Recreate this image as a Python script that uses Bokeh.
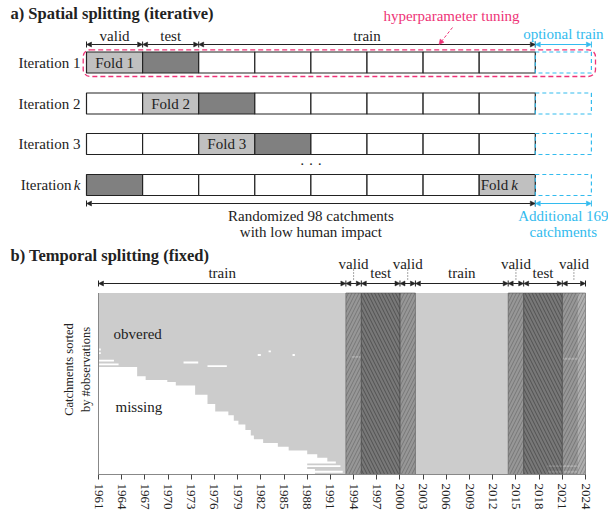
import math
from bokeh.plotting import figure
from bokeh.models import Range1d, Arrow, NormalHead, BoxAnnotation, FixedTicker, ColumnDataSource
from bokeh.layouts import column
from bokeh.core.properties import value
from bokeh.embed import file_html
from bokeh.resources import INLINE

FONT = "Liberation Serif"
INK = "#222222"
MAGENTA = "#EE3377"
CYAN = "#33BBEE"

# ---------------- Panel a data ----------------
iterations = ["Iteration 1", "Iteration 2", "Iteration 3", "Iteration k"]
n_folds = 8
valid_fold = [0, 1, 2, 7]
test_fold = [1, 2, 3, 0]
fold_labels = ["Fold 1", "Fold 2", "Fold 3", "Fold k"]
top_seg_start = [0, 1, 2]
top_seg_end = [1, 2, 8]
top_seg_label = ["valid", "test", "train"]
n_random = 98
n_additional = 169

# ---------------- Panel b data ----------------
years = list(range(1961, 2025, 3))
first_year = ([1961.0] * 40 + [1966.0] * 5 + [1967.1] * 2 + [1969.9] * 1 + [1971.0] * 2
              + [1973.5] * 5 + [1975.1] * 5 + [1976.1] * 4 + [1977.8] * 2 + [1978.5] * 3
              + [1979.1] * 2 + [1980.0] * 3 + [1980.7] * 3 + [1981.1] * 2 + [1982.3] * 2
              + [1984.2] * 2 + [1985.6] * 2 + [1988.0] * 2 + [1989.3] * 2 + [1990.6] * 2
              + [1991.7] + [1988.0, 1992.3, 1988.0, 1989.0, 1992.6, 1989.0])
data_end = 2023.0
gap_row = [30, 32, 36, 38, 37, 39, 33, 31, 33, 34, 35, 93, 96]
gap_from = [1961.0, 1961.0, 1961.0, 1961.0, 1972.0, 1975.1, 1981.6, 1983.0, 1986.1, 1993.7, 2021.0, 2019.1, 2019.1]
gap_to = [1961.3, 1961.3, 1963.0, 1963.6, 1973.9, 1977.6, 1982.0, 1983.3, 1986.4, 1994.9, 2023.0, 2023.0, 2023.0]
split_start = [1961, 1993, 1995, 2000, 2002, 2014, 2016, 2021]
split_end = [1993, 1995, 2000, 2002, 2014, 2016, 2021, 2024]
split_kind = ["train", "valid", "test", "valid", "train", "valid", "test", "valid"]

W = 608

# ================= Panel a =================
HA = 242
FOLD_PX = 56.1
X0_PX = 86.0


def ax(px):
    return (px - X0_PX) / FOLD_PX


pa = figure(width=W, height=HA, x_range=Range1d(ax(0), ax(W)), y_range=Range1d(HA, 0),
            output_backend="svg", toolbar_location=None, min_border=0,
            x_axis_location=None, y_axis_location=None)
pa.outline_line_color = None
pa.xgrid.grid_line_color = None
pa.ygrid.grid_line_color = None

row_y = [62.0, 103.0, 143.5, 184.5]
BOX_H = 21.0


def txt(p, x, y, t, size="15px", color=INK, align="center", style="normal", angle=0.0, xoff=0):
    p.text(x=[x], y=[y], text=[t], text_font=value(FONT), text_font_size=size,
           text_color=color, text_align=align, text_baseline="middle",
           text_font_style=style, angle=angle, x_offset=xoff)


txt(pa, ax(10), 12.5, "a) Spatial splitting (iterative)", size="16.5px", align="left", style="bold")

# cells
cl, cr, ct, cb, cf = [], [], [], [], []
for i, yc in enumerate(row_y):
    for f in range(n_folds):
        cl.append(f)
        cr.append(f + 1)
        ct.append(yc - BOX_H / 2)
        cb.append(yc + BOX_H / 2)
        if f == valid_fold[i]:
            cf.append("#c0c0c0")
        elif f == test_fold[i]:
            cf.append("#808080")
        else:
            cf.append("#ffffff")
pa.quad(left=cl, right=cr, top=ct, bottom=cb, fill_color=cf, line_color=INK, line_width=1.2)
# optional extra catchments
pa.quad(left=[n_folds] * 4, right=[n_folds + 1] * 4,
        top=[y - BOX_H / 2 for y in row_y], bottom=[y + BOX_H / 2 for y in row_y],
        fill_color=None, line_color=CYAN, line_dash="4 3", line_width=1.2)

for i, yc in enumerate(row_y):
    lab = iterations[i]
    if lab.endswith(" k"):
        txt(pa, 0, yc, lab[:-2], align="right", xoff=-15)
        txt(pa, 0, yc, "k", align="right", style="italic", xoff=-6)
    else:
        txt(pa, 0, yc, lab, align="right", xoff=-6)
    fl = fold_labels[i]
    xc = valid_fold[i] + 0.5
    if fl.endswith(" k"):
        txt(pa, xc, yc, fl[:-2], align="right", xoff=1)
        txt(pa, xc, yc, "k", align="left", style="italic", xoff=4)
    else:
        txt(pa, xc, yc, fl)

txt(pa, 4, 163, "· · ·")


def arrows(p, x0, x1, y, color, tick_half):
    src = ColumnDataSource(dict(x0=x0, x1=x1, y=[y] * len(x0)))
    p.add_layout(Arrow(x_start="x0", y_start="y", x_end="x1", y_end="y", source=src,
                       line_color=color, line_width=1,
                       start=NormalHead(size=5, fill_color=color, line_color=color, line_width=0.5),
                       end=NormalHead(size=5, fill_color=color, line_color=color, line_width=0.5)))
    xs = sorted(set(list(x0) + list(x1)))
    p.segment(x0=xs, x1=xs, y0=[y - tick_half] * len(xs), y1=[y + tick_half] * len(xs),
              line_color=color, line_width=1)


# top arrows
arrows(pa, top_seg_start, top_seg_end, 44, INK, 3)
arrows(pa, [n_folds], [n_folds + 1], 44, CYAN, 3)
for s, e, l in zip(top_seg_start, top_seg_end, top_seg_label):
    txt(pa, (s + e) / 2, 35, l)
txt(pa, n_folds + 0.5, 33, "optional train", color=CYAN)

# hyperparameter tuning
pa.add_layout(BoxAnnotation(left=ax(82.7), right=ax(595), top=49.3, bottom=76,
                            fill_alpha=0, line_color=MAGENTA, line_alpha=1.0, line_dash="5 3",
                            line_width=1.3, border_radius=7))
txt(pa, ax(451), 15, "hyperparameter tuning", color=MAGENTA)
pa.add_layout(Arrow(x_start=ax(452), y_start=27, x_end=ax(438.5), y_end=44,
                    line_color=MAGENTA, line_width=1, line_dash="3 2",
                    end=NormalHead(size=5, fill_color=MAGENTA, line_color=MAGENTA, line_width=0.5)))

# bottom arrows
arrows(pa, [0], [n_folds], 203, INK, 3)
arrows(pa, [n_folds], [n_folds + 1], 203, CYAN, 3)
txt(pa, n_folds / 2, 215, f"Randomized {n_random} catchments")
txt(pa, n_folds / 2, 231, "with low human impact")
txt(pa, n_folds + 0.5, 215, f"Additional {n_additional}", color=CYAN)
txt(pa, n_folds + 0.5, 231, "catchments", color=CYAN)

# ================= Panel b =================
HB = 517 - HA
PAGE_TOP = HA
PLOT_BOTTOM = 474.0
PLOT_TOP = 292.5
X_LEFT, X_RIGHT = 98.0, 585.0
PX_YR = (X_RIGHT - X_LEFT) / (years[-1] - years[0])
n_rows = len(first_year)
PX_ROW = (PLOT_BOTTOM - PLOT_TOP) / n_rows
XB0 = years[0] - X_LEFT / PX_YR


def bx(px):
    return XB0 + px / PX_YR


def by(py):
    return (PLOT_BOTTOM - py) / PX_ROW


pb = figure(width=W, height=HB, x_range=Range1d(bx(0), bx(W)),
            y_range=Range1d(0, by(PAGE_TOP)),
            output_backend="svg", toolbar_location=None,
            min_border_left=0, min_border_right=0, min_border_top=0, min_border_bottom=43,
            x_axis_location="below", y_axis_location=None)
pb.outline_line_color = None
pb.xgrid.grid_line_color = None
pb.ygrid.grid_line_color = None

# observed: grey block over the record period
pb.quad(left=[years[0]], right=[data_end], top=[n_rows], bottom=[0],
        fill_color="#cccccc", line_color=None)
# missing before first observation: one staircase polygon
sx, sy = [years[0]], [n_rows]
for i, fy in enumerate(first_year):
    sx += [fy, fy]
    sy += [n_rows - i, n_rows - i - 1]
sx.append(years[0])
sy.append(0)
pb.patch(x=sx, y=sy, fill_color="#ffffff", line_color=None)
# gaps inside records
pb.quad(left=gap_from, right=gap_to, top=[n_rows - r for r in gap_row],
        bottom=[n_rows - r - 1 for r in gap_row], fill_color="#ffffff", line_color=None)

# split bands
for kind, fc, fa, hp, hc, ha in [("valid", "#626262", 0.5, "/", "#3a3a3a", 0.5),
                                 ("test", "#333333", 0.55, "\\", "#1a1a1a", 0.6)]:
    L = [s for s, k in zip(split_start, split_kind) if k == kind]
    R = [e for e, k in zip(split_end, split_kind) if k == kind]
    pb.quad(left=L, right=R, top=[n_rows] * len(L), bottom=[0] * len(L),
            fill_color=fc, fill_alpha=fa, hatch_pattern=hp, hatch_color=hc,
            hatch_alpha=ha, hatch_scale=7, hatch_weight=0.7,
            line_color="#555555", line_width=0.8, line_alpha=0.7)

# left spine
pb.segment(x0=[years[0]], x1=[years[0]], y0=[0], y1=[n_rows], line_color="#888888", line_width=1)

# axis
xa = pb.xaxis[0]
xa.bounds = (years[0], years[-1])
xa.ticker = FixedTicker(ticks=years)
xa.major_label_orientation = -math.pi / 2
xa.major_label_text_font = FONT
xa.major_label_text_font_size = "13px"
xa.major_label_text_color = INK
xa.axis_line_color = "#888888"
xa.major_tick_line_color = "#444444"
xa.major_tick_in = 0
xa.major_tick_out = 5
xa.minor_tick_line_color = None
xa.major_label_standoff = 4

# title and annotations
txt(pb, bx(10), by(255), "b) Temporal splitting (fixed)", size="16.5px", align="left", style="bold")
y_arr = by(283)
pb.add_layout(Arrow(x_start="x0", y_start="y", x_end="x1", y_end="y",
                    source=ColumnDataSource(dict(x0=split_start, x1=split_end,
                                                 y=[y_arr] * len(split_start))),
                    line_color=INK, line_width=1,
                    start=NormalHead(size=5, fill_color=INK, line_color=INK, line_width=0.5),
                    end=NormalHead(size=5, fill_color=INK, line_color=INK, line_width=0.5)))
tx = sorted(set(split_start + split_end))
pb.segment(x0=tx, x1=tx, y0=[by(286)] * len(tx), y1=[by(280)] * len(tx), line_color=INK, line_width=1)
for s, e, k in zip(split_start, split_end, split_kind):
    xc = (s + e) / 2
    if k == "valid":
        txt(pb, xc, by(263), k)
        pb.segment(x0=[xc], x1=[xc], y0=[by(269)], y1=[by(281)], line_color=INK,
                   line_width=0.8, line_dash="1 2")
    else:
        txt(pb, xc, by(272), k)

txt(pb, bx(113), by(333), "obvered", align="left")
txt(pb, bx(115), by(406), "missing", align="left")
txt(pb, bx(68), by(369), "Catchments sorted", size="12.5px", angle=math.pi / 2)
txt(pb, bx(85), by(369), "by #observations", size="12.5px", angle=math.pi / 2)

layout = column(pa, pb)
open("out.html", "w").write(file_html(layout, INLINE))
